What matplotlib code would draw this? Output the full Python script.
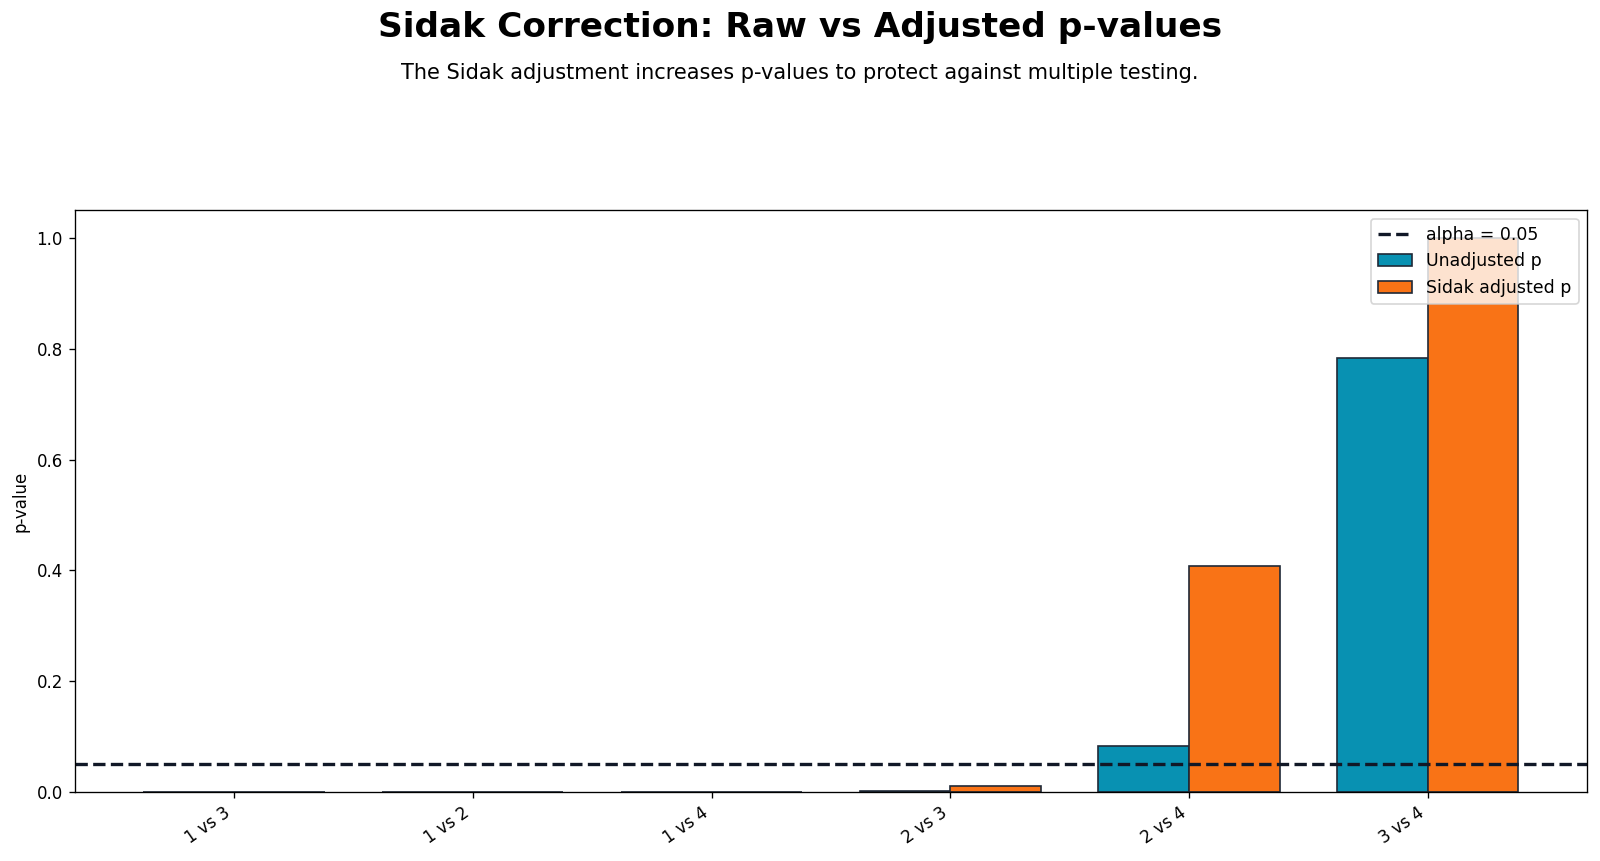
import numpy as np
import matplotlib.pyplot as plt

# comparisons and p-values
comparisons = ['1 vs 3', '1 vs 2', '1 vs 4', '2 vs 3', '2 vs 4', '3 vs 4']
p_raw = [0.0000, 0.0000, 0.0000, 0.0018, 0.0837, 0.783]
p_sidak = [0.0000, 0.0000, 0.0000, 0.0108, 0.408, 0.9999]
alpha = 0.05

blue = '#0891b2'
orange = '#f97316'
edge = '#1f2937'

fig, ax = plt.subplots(figsize=(1600 / 120, 861 / 120), dpi=120)
fig.subplots_adjust(left=0.0466, right=0.992, top=0.756, bottom=0.080)

x = np.arange(len(comparisons))
w = 0.38

ax.axhline(alpha, color='#111827', linestyle='--', linewidth=2, label='alpha = 0.05')
ax.bar(x - w / 2, p_raw, width=w, color=blue, edgecolor=edge, linewidth=1, label='Unadjusted p')
ax.bar(x + w / 2, p_sidak, width=w, color=orange, edgecolor=edge, linewidth=1, label='Sidak adjusted p')

ax.set_ylim(0, 1.05)
ax.set_xticks(x)
ax.set_xticklabels(comparisons, rotation=35, ha='right')
ax.set_ylabel('p-value')
ax.legend(loc='upper right', fontsize=10.4)

fig.text(0.5, 0.968, 'Sidak Correction: Raw vs Adjusted p-values', ha='center', va='center',
         fontsize=20.6, fontweight='bold')
fig.text(0.5, 0.915, 'The Sidak adjustment increases p-values to protect against multiple testing.',
         ha='center', va='center', fontsize=12.5)

fig.savefig('out.png', dpi=120)
